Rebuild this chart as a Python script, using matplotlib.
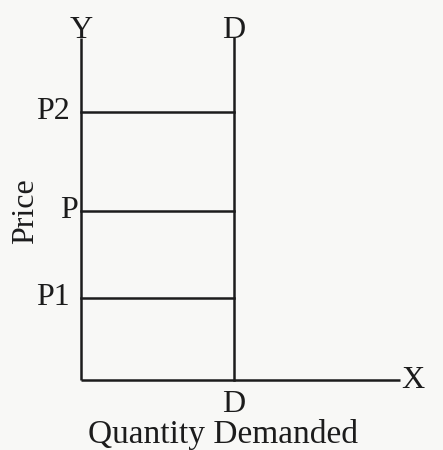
import matplotlib.pyplot as plt

# perfectly inelastic demand: quantity stays at D whatever the price
quantity_demanded = 4.8
price_levels = [2.4, 4.95, 7.85]
price_labels = ['P1', 'P', 'P2']
axis_max = 10

ink = '#1c1c1c'
plt.rcParams['font.family'] = ['Liberation Serif', 'DejaVu Serif']

fig = plt.figure(figsize=(4.43, 4.5), dpi=100, facecolor='#f8f8f6')
ax = fig.add_axes([81 / 443, 70 / 450, 319 / 443, 342 / 450])
ax.set_xlim(0, axis_max)
ax.set_ylim(0, axis_max)
ax.axis('off')

lw = 1.8
fs = 23
# axes
ax.plot([0, 0], [0, axis_max], color=ink, lw=lw, clip_on=False, solid_capstyle='butt')
ax.plot([0, axis_max], [0, 0], color=ink, lw=lw, clip_on=False, solid_capstyle='butt')
# demand curve
ax.plot([quantity_demanded] * 2, [0, axis_max], color=ink, lw=lw, clip_on=False)

# price lines out to the demand curve
for p, lab in zip(price_levels, price_labels):
    ax.plot([0, quantity_demanded], [p, p], color=ink, lw=lw, clip_on=False)
    gap = 0.1 if lab == 'P' else 0.35
    ax.text(-gap, p, lab, ha='right', va='center', fontsize=fs, color=ink)

ax.text(0, axis_max - 0.2, 'Y', ha='center', va='bottom', fontsize=fs, color=ink)
ax.text(quantity_demanded, axis_max - 0.2, 'D', ha='center', va='bottom', fontsize=fs, color=ink)
ax.text(quantity_demanded, -0.3, 'D', ha='center', va='top', fontsize=fs, color=ink)
ax.text(axis_max + 0.05, 0, 'X', ha='left', va='center', fontsize=fs, color=ink)
ax.text(-1.75, 4.95, 'Price', ha='center', va='center', rotation=90, fontsize=fs, color=ink)
ax.text(4.45, -1.13, 'Quantity Demanded', ha='center', va='top', fontsize=24, color=ink)

fig.savefig('out.png', dpi=100, facecolor=fig.get_facecolor())
